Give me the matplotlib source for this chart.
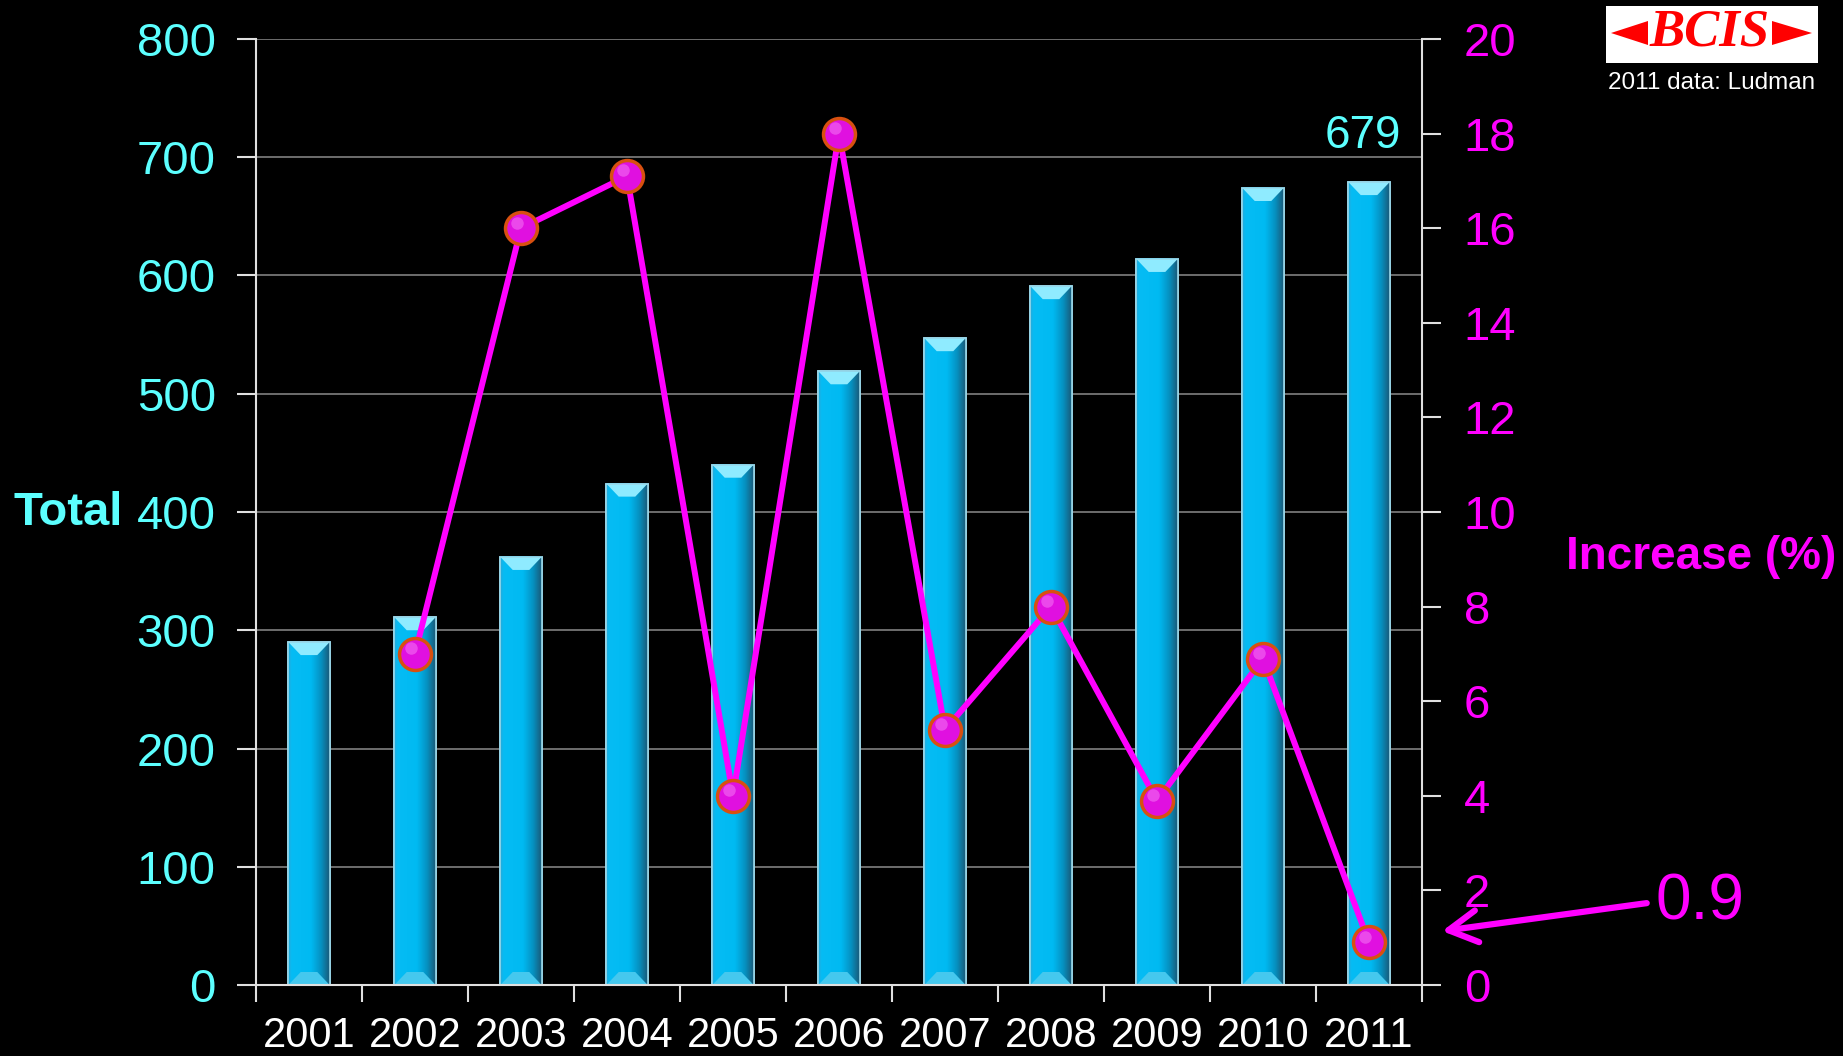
import matplotlib
matplotlib.use("Agg")
import matplotlib.pyplot as plt
import numpy as np
from matplotlib.patches import Polygon, Rectangle
from matplotlib.colors import LinearSegmentedColormap

plt.rcParams["font.family"] = ["Liberation Sans", "DejaVu Sans"]

years = ["2001", "2002", "2003", "2004", "2005", "2006",
         "2007", "2008", "2009", "2010", "2011"]
total = [290, 311, 362, 424, 440, 519, 547, 591, 614, 674, 679]
increase = [np.nan, 7.0, 16.0, 17.1, 4.0, 18.0, 5.4, 8.0, 3.9, 6.9, 0.9]

CYAN_TXT = "#5CFFFF"
MAGENTA = "#FF00FF"
W, H = 1843, 1056

fig = plt.figure(figsize=(W / 100, H / 100), dpi=100, facecolor="black")
ax = fig.add_axes([256 / W, 1 - 985 / H, (1422 - 256) / W, (985 - 39) / H])
ax.set_facecolor("black")

x = np.arange(len(years))
bw = 0.39
ax.set_xlim(-0.5, len(years) - 0.5)
ax.set_ylim(0, 800)

# bars with a bit of 3D shading
bars = ax.bar(x, total, width=bw, color="#00B8F0", edgecolor="#9AD8EA",
              linewidth=1.2, zorder=2)
shade = LinearSegmentedColormap.from_list(
    "shade", [(0, "#2AA8D8"), (0.08, "#06BCF4"), (0.55, "#00BAF2"),
              (0.8, "#0690C0"), (1, "#1A5A78")])
grad = np.linspace(0, 1, 64).reshape(1, -1)
for b in bars:
    x0, x1, h = b.get_x(), b.get_x() + b.get_width(), b.get_height()
    ax.imshow(grad, cmap=shade, extent=(x0, x1, 0, h), aspect="auto",
              zorder=2.1, interpolation="bilinear")
    d = 0.3 * (x1 - x0)
    e = 11
    ax.add_patch(Polygon([(x0, h), (x1, h), (x1 - d, h - e), (x0 + d, h - e)],
                         closed=True, facecolor="#8FEBFF", edgecolor="none",
                         zorder=2.2))
    ax.add_patch(Polygon([(x0, 0), (x1, 0), (x1 - d, e), (x0 + d, e)],
                         closed=True, facecolor="#45C8EE", edgecolor="none",
                         zorder=2.2))
    ax.add_patch(Rectangle((x0, 0), x1 - x0, h, fill=False,
                           edgecolor="#9AD8EA", linewidth=1.2, zorder=2.3))

ax.set_axisbelow(True)
ax.yaxis.grid(True, color="#808080", linewidth=1.2)
ax.set_yticks(range(0, 801, 100))
ax.tick_params(axis="y", colors="#E0E0E0", labelcolor=CYAN_TXT,
               labelsize=34, length=14, width=1.5, direction="out", pad=15)
ax.set_xticks(np.arange(-0.5, len(years), 1))
ax.set_xticklabels([])
ax.set_xticks(x, minor=True)
ax.set_xticklabels(years, minor=True)
ax.tick_params(axis="x", which="major", colors="#E0E0E0", length=12,
               width=1.5, direction="out")
ax.tick_params(axis="x", which="minor", length=0, labelcolor="white",
               labelsize=30, pad=22)
for s in ["left", "bottom", "right"]:
    ax.spines[s].set_color("#E0E0E0")
    ax.spines[s].set_linewidth(1.5)
ax.spines["top"].set_visible(False)

ax.text(10.3, 718, f"{total[-1]}", color=CYAN_TXT, fontsize=33,
        ha="right", va="center")

# increase line on right axis
ax2 = ax.twinx()
ax2.set_ylim(0, 20)
ax2.set_yticks(range(0, 21, 2))
ax2.tick_params(axis="y", colors="#E0E0E0", labelcolor=MAGENTA,
                labelsize=34, length=14, width=1.5, direction="out", pad=16)
for s in ["left", "bottom", "right", "top"]:
    ax2.spines[s].set_visible(False)
ax2.plot(x, increase, color=MAGENTA, linewidth=4.3, zorder=3,
         solid_capstyle="round")
ax2.plot(x, increase, linestyle="none", marker="o", markersize=23,
         markerfacecolor="#E010E0", markeredgecolor="#D85010",
         markeredgewidth=2.5, zorder=4)
ax2.plot(np.array(x) - 0.04, np.array(increase) + 0.12, linestyle="none",
         marker="o", markersize=9, markerfacecolor="#F060F0",
         markeredgecolor="none", alpha=0.7, zorder=5)

ax2.annotate(f"{increase[-1]}", xy=(10.69, 1.14),
             xytext=(1655 / W, 1 - 902 / H), textcoords="figure fraction",
             color=MAGENTA, fontsize=46, ha="left", va="center",
             annotation_clip=False,
             arrowprops=dict(arrowstyle="->,head_length=0.45,head_width=0.25",
                             color=MAGENTA, lw=4.5, shrinkA=4, shrinkB=0,
                             relpos=(0, 0.5)))

fig.text(14 / W, 1 - 513 / H, "Total", color=CYAN_TXT, fontsize=34,
         fontweight="bold", ha="left", va="center")
fig.text(1836 / W, 1 - 557 / H, "Increase (%)", color=MAGENTA, fontsize=33,
         fontweight="bold", ha="right", va="center")

# logo
fig.patches.append(Rectangle((1606 / W, 1 - 63 / H), 212 / W, 57 / H,
                             transform=fig.transFigure, facecolor="white",
                             edgecolor="none"))
fig.patches.append(Polygon([(1611 / W, 1 - 33 / H), (1648 / W, 1 - 21 / H),
                            (1648 / W, 1 - 45 / H)], closed=True,
                           transform=fig.transFigure, facecolor="#FF0000"))
fig.patches.append(Polygon([(1812 / W, 1 - 33 / H), (1772 / W, 1 - 21 / H),
                            (1772 / W, 1 - 45 / H)], closed=True,
                           transform=fig.transFigure, facecolor="#FF0000"))
fig.text(1710 / W, 1 - 33 / H, "BCIS", color="#FF0000", fontsize=38,
         family="Liberation Serif", fontweight="bold", style="italic",
         ha="center", va="center")
fig.text(1712 / W, 1 - 83 / H, "2011 data: Ludman", color="white",
         fontsize=17.5, ha="center", va="center")

fig.savefig("out.png", dpi=100, facecolor="black")
